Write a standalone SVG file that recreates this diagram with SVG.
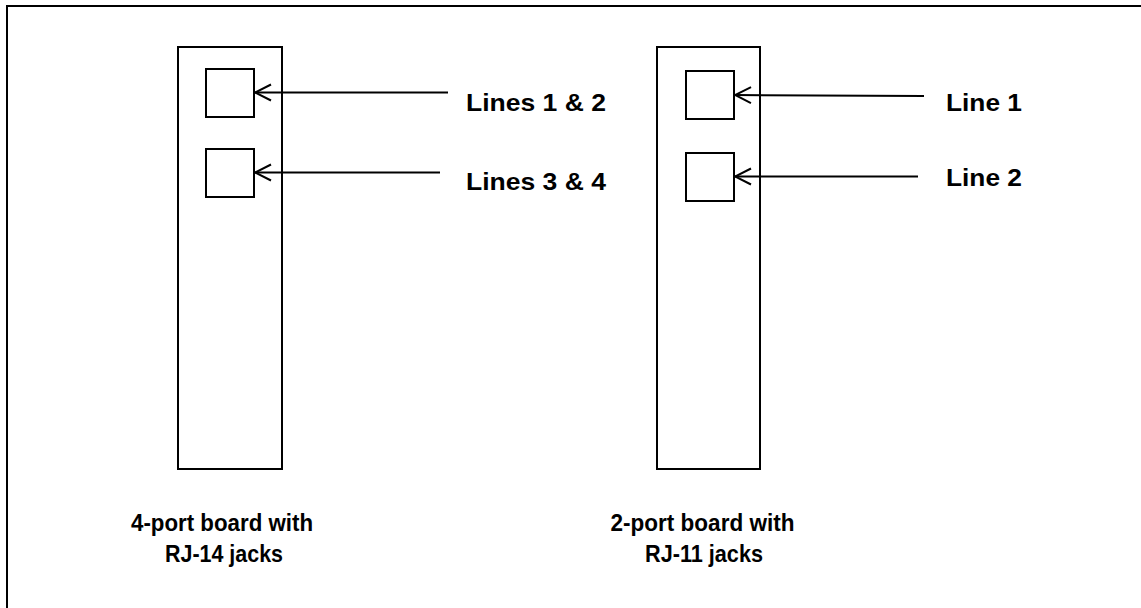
<svg xmlns="http://www.w3.org/2000/svg" width="1141" height="608" viewBox="0 0 1141 608">
<style>
.frame{fill:none;stroke:#000;stroke-width:2}
.board{fill:#fff;stroke:#000;stroke-width:2}
.jack{fill:#fff;stroke:#000;stroke-width:2}
.conn{fill:none;stroke:#000;stroke-width:2}
.lbl{font-family:"Liberation Sans",Arial,sans-serif;font-weight:bold;fill:#000;font-size:24px}
</style>
<defs>
<marker id="open" viewBox="0 0 20 20" refX="19" refY="10" markerWidth="20" markerHeight="20" markerUnits="userSpaceOnUse" orient="auto">
<path d="M3,2 L19,10 L3,18" fill="none" stroke="#000" stroke-width="2"/>
</marker>
</defs>
<rect x="0" y="0" width="1141" height="608" fill="#fff"/>
<rect class="frame" x="7" y="6" width="1300" height="800"/>
<g id="board4">
<rect class="board" x="178" y="47" width="104" height="422"/>
<text class="lbl" x="222" y="531" text-anchor="middle" textLength="182" lengthAdjust="spacingAndGlyphs">4-port board with</text>
<text class="lbl" x="224" y="562" text-anchor="middle" textLength="118" lengthAdjust="spacingAndGlyphs">RJ-14 jacks</text>
</g>
<g id="jack4a"><rect class="jack" x="206" y="69" width="48" height="48"/></g>
<g id="jack4b"><rect class="jack" x="206" y="149" width="48" height="48"/></g>
<g id="board2">
<rect class="board" x="657" y="47" width="103" height="422"/>
<text class="lbl" x="702.5" y="531" text-anchor="middle" textLength="184" lengthAdjust="spacingAndGlyphs">2-port board with</text>
<text class="lbl" x="704" y="562" text-anchor="middle" textLength="118" lengthAdjust="spacingAndGlyphs">RJ-11 jacks</text>
</g>
<g id="jack2a"><rect class="jack" x="686" y="71" width="48" height="48"/></g>
<g id="jack2b"><rect class="jack" x="686" y="153" width="48" height="48"/></g>
<g id="label-l12"><text class="lbl" x="466" y="111" textLength="140" lengthAdjust="spacingAndGlyphs">Lines 1 &amp; 2</text></g>
<g id="label-l34"><text class="lbl" x="466" y="190" textLength="140" lengthAdjust="spacingAndGlyphs">Lines 3 &amp; 4</text></g>
<g id="label-line1"><text class="lbl" x="946" y="111" textLength="76" lengthAdjust="spacingAndGlyphs">Line 1</text></g>
<g id="label-line2"><text class="lbl" x="946" y="186" textLength="76" lengthAdjust="spacingAndGlyphs">Line 2</text></g>
<g id="connectors">
<line class="conn" x1="448" y1="92.5" x2="255" y2="92.5" marker-end="url(#open)"/>
<line class="conn" x1="440" y1="172.5" x2="255" y2="172.5" marker-end="url(#open)"/>
<line class="conn" x1="924" y1="96" x2="735" y2="95" marker-end="url(#open)"/>
<line class="conn" x1="918" y1="176.5" x2="735" y2="176.5" marker-end="url(#open)"/>
</g>
</svg>
